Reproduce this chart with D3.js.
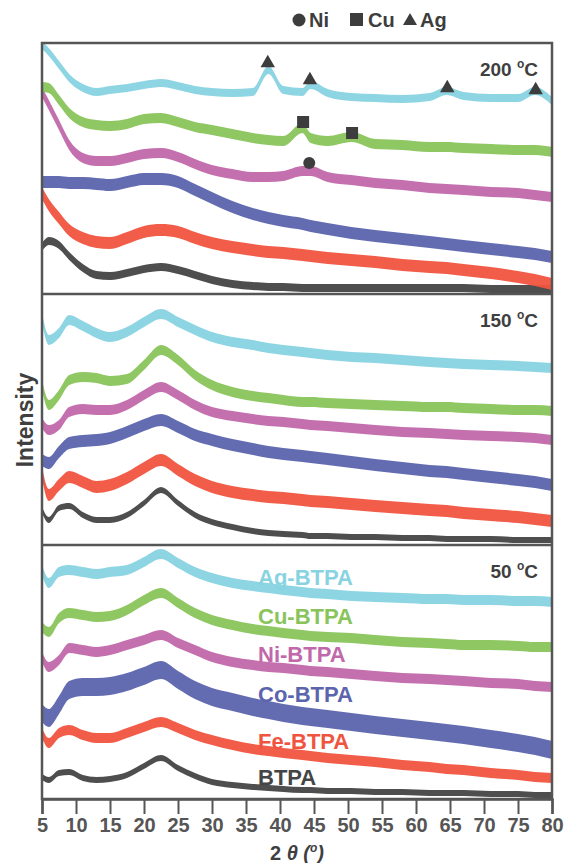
<!DOCTYPE html>
<html><head><meta charset="utf-8">
<script src="https://cdn.jsdelivr.net/npm/d3@7"></script>
<style>body{margin:0;background:#fff}svg{display:block}text{font-family:Arial,"Liberation Sans",sans-serif;font-weight:bold}</style>
</head><body><svg id="c" width="565" height="863"></svg>
<script>
// 2θ sample positions (degrees)
const twoTheta = [5,6,7.5,9,11,13,15,17.5,20,22.5,25,27.5,30,33,36,38.3,40.5,43.3,44.5,47,50.5,54,58,62,64.5,67,71,75,77.5,80];
const seriesNames = ["BTPA","Fe-BTPA","Co-BTPA","Ni-BTPA","Cu-BTPA","Ag-BTPA"];
const seriesColors = ["#454545","#f0543f","#5b64ad","#c168aa","#89c45b","#88d3e1"];
const panelLabels = ["200","150","50"];
const xTicks = [5,10,15,20,25,30,35,40,45,50,55,60,65,70,75,80];

// 200 °C (a.u.)
const btpa200 = [47,53,49,38,26,19,18,21,25,27,24,19,14,10,8,7,7,6,6,6,6,6,6,6,6,6,5,5,5,5];
const fe200   = [101,89,76,64,56,52,51,56,62,64,62,56,51,47,44,42,41,39,38,36,34,32,29,27,26,24,21,17,14,10];
const co200   = [112,112,112,111,111,110,109,112,115,115,112,104,96,87,80,76,73,70,68,65,61,58,55,52,50,48,45,42,40,37];
const ni200   = [202,189,169,149,136,133,133,136,140,141,137,130,124,120,117,117,118,123,123,117,114,111,109,106,105,104,102,101,99,97];
const cu200   = [207,206,194,181,172,169,168,170,175,176,172,167,164,160,156,154,153,166,156,153,157,150,149,147,147,146,145,144,144,142];
const ag200   = [249,242,229,216,206,202,204,206,209,211,208,204,202,201,202,224,204,202,209,201,197,196,195,197,203,198,196,196,203,193];
// 150 °C
const btpa150 = [35,25,37,39,30,25,25,30,42,55,42,30,23,18,14,12,11,10,9,9,8,8,7,7,6,6,6,5,5,5];
const fe150   = [72,50,60,68,63,58,60,67,77,85,75,65,58,53,50,48,47,45,44,43,41,39,37,35,34,32,30,28,26,24];
const co150   = [85,82,93,102,104,105,107,113,120,125,118,110,105,100,96,93,91,89,88,86,83,80,77,74,73,71,68,65,63,60];
const ni150   = [122,115,120,133,136,135,135,140,150,158,150,140,133,129,126,124,123,121,120,119,117,115,113,112,111,110,109,108,107,105];
const cu150   = [160,140,150,165,168,167,164,166,180,195,185,170,160,153,149,147,145,143,143,142,141,140,139,138,138,137,136,135,135,134];
const ag150   = [227,205,212,225,219,212,208,213,223,231,223,215,208,203,200,197,195,193,192,190,188,187,185,183,182,181,180,179,178,177];
// 50 °C
const btpa50 = [22,19,26,27,21,19,20,24,33,41,31,23,17,14,12,11,10,9,9,8,8,7,7,6,6,6,5,5,4,4];
const fe50   = [66,56,66,69,64,61,61,66,72,77,71,64,59,54,50,48,46,44,43,41,39,37,34,32,30,29,26,24,22,21];
const co50   = [86,81,94,109,112,112,113,117,123,129,119,109,102,97,92,89,86,83,82,80,77,74,71,68,66,64,60,56,53,49];
const ni50   = [142,132,139,151,149,147,149,154,159,164,156,149,142,137,134,132,131,129,128,127,125,123,121,120,119,118,116,115,113,112];
const cu50   = [172,167,181,186,184,182,183,189,199,206,196,186,179,174,170,168,166,164,163,162,161,159,157,156,155,154,154,153,152,152];
const ag50   = [229,216,227,229,227,225,227,229,237,245,236,227,221,216,213,211,209,207,206,205,203,202,201,200,200,199,199,198,198,197];

// noise band half-width per series (a.u.)
const noise200 = [4,6,6,5,5,4];
const noise150 = [3,6,6,5,5,5];
const noise50  = [3,5,9,5,5,5];

// phase markers (200 °C panel)
const agPeaks = [38.2,44.4,64.6,77.6], agMarkY = [231,214,206,204];
const cuPeaks = [43.4,50.6], cuMarkY = [172,161];
const niPeaks = [44.3], niMarkY = [131];

const panels = [
  {label:panelLabels[0], data:[btpa200,fe200,co200,ni200,cu200,ag200], noise:noise200, top:43, bottom:294},
  {label:panelLabels[1], data:[btpa150,fe150,co150,ni150,cu150,ag150], noise:noise150, top:294, bottom:545},
  {label:panelLabels[2], data:[btpa50,fe50,co50,ni50,cu50,ag50], noise:noise50, top:545, bottom:799}
];

const svg = d3.select("#c");
const L = 42, R = 552;
const x = d3.scaleLinear().domain([5,80]).range([L,R]);
const frame = "#555";

panels.forEach((p,pi) => {
  const h = p.bottom - p.top;
  const y = d3.scaleLinear().domain([0,h]).range([p.bottom,p.top]);
  const g = svg.append("g");
  g.append("clipPath").attr("id","cp"+pi).append("rect").attr("x",L).attr("y",p.top).attr("width",R-L).attr("height",h);
  const gg = g.append("g").attr("clip-path",`url(#cp${pi})`);
  p.data.forEach((vals,si) => {
    const hw = p.noise[si];
    const pts = twoTheta.map((t,i)=>[t,vals[i]]);
    const area = d3.area().x(d=>x(d[0])).y0(d=>y(d[1]-hw)).y1(d=>y(d[1]+hw)).curve(d3.curveMonotoneX);
    gg.append("path").attr("d",area(pts)).attr("fill",seriesColors[si]).attr("opacity",0.95);
  });
  // panel label
  const t = g.append("text").attr("x",538).attr("y",p.top + 33).attr("text-anchor","end")
    .attr("font-size",19).attr("fill","#3f3f3f");
  t.append("tspan").text(p.label+" ");
  t.append("tspan").text("o").attr("font-size",12).attr("dy",-8);
  t.append("tspan").text("C").attr("dy",8);

  if (pi===0) {
    const mk = "#3d3d3d";
    agPeaks.forEach((t,i)=>svg.append("path").attr("d",d3.symbol(d3.symbolTriangle,90)())
      .attr("transform",`translate(${x(t)},${y(agMarkY[i])})`).attr("fill",mk));
    cuPeaks.forEach((t,i)=>svg.append("rect").attr("x",x(t)-6).attr("y",y(cuMarkY[i])-6).attr("width",12).attr("height",12).attr("fill",mk));
    niPeaks.forEach((t,i)=>svg.append("circle").attr("cx",x(t)).attr("cy",y(niMarkY[i])).attr("r",6).attr("fill",mk));
  }
  if (pi===2) {
    const labY = [785,749,702,662,624,585];
    seriesNames.forEach((n,si)=>svg.append("text").attr("x",258).attr("y",labY[si]).attr("font-size",22)
      .attr("fill",seriesColors[si]).text(n));
  }
});

// frame
svg.append("rect").attr("x",L).attr("y",43).attr("width",R-L).attr("height",799-43)
  .attr("fill","none").attr("stroke",frame).attr("stroke-width",2.5);
[294,545].forEach(v=>svg.append("line").attr("x1",L).attr("x2",R).attr("y1",v).attr("y2",v).attr("stroke",frame).attr("stroke-width",2.5));

// x axis
const ax = svg.append("g").attr("transform","translate(0,799)")
  .call(d3.axisBottom(x).tickValues(xTicks).tickSize(15).tickPadding(4).tickFormat(d3.format("d")));
ax.select(".domain").attr("stroke",frame).attr("stroke-width",2.5);
ax.selectAll(".tick line").attr("stroke",frame).attr("stroke-width",2);
ax.selectAll(".tick text").attr("font-size",20).attr("fill","#555").attr("font-family","Arial, 'Liberation Sans', sans-serif").attr("font-weight","bold");

// x title
const xt = svg.append("text").attr("x",297).attr("y",860).attr("text-anchor","middle").attr("font-size",20).attr("fill","#3f3f3f");
xt.append("tspan").text("2 ");
xt.append("tspan").text("θ").attr("font-style","italic");
xt.append("tspan").text(" (").attr("font-style","italic");
xt.append("tspan").text("o").attr("font-size",12).attr("dy",-8).attr("font-style","italic");
xt.append("tspan").text(")").attr("dy",8).attr("font-style","italic");

// y title
svg.append("text").attr("transform","translate(33,420) rotate(-90)").attr("text-anchor","middle")
  .attr("font-size",23).attr("fill","#3f3f3f").text("Intensity");

// legend
const lg = svg.append("g").attr("fill","#3d3d3d");
lg.append("circle").attr("cx",299).attr("cy",20).attr("r",6.5);
lg.append("text").attr("x",309).attr("y",27).attr("font-size",20).text("Ni");
lg.append("rect").attr("x",350).attr("y",13).attr("width",13).attr("height",13);
lg.append("text").attr("x",368).attr("y",27).attr("font-size",20).text("Cu");
lg.append("path").attr("d",d3.symbol(d3.symbolTriangle,85)()).attr("transform","translate(410,21)");
lg.append("text").attr("x",420).attr("y",27).attr("font-size",20).text("Ag");
</script></body></html>
